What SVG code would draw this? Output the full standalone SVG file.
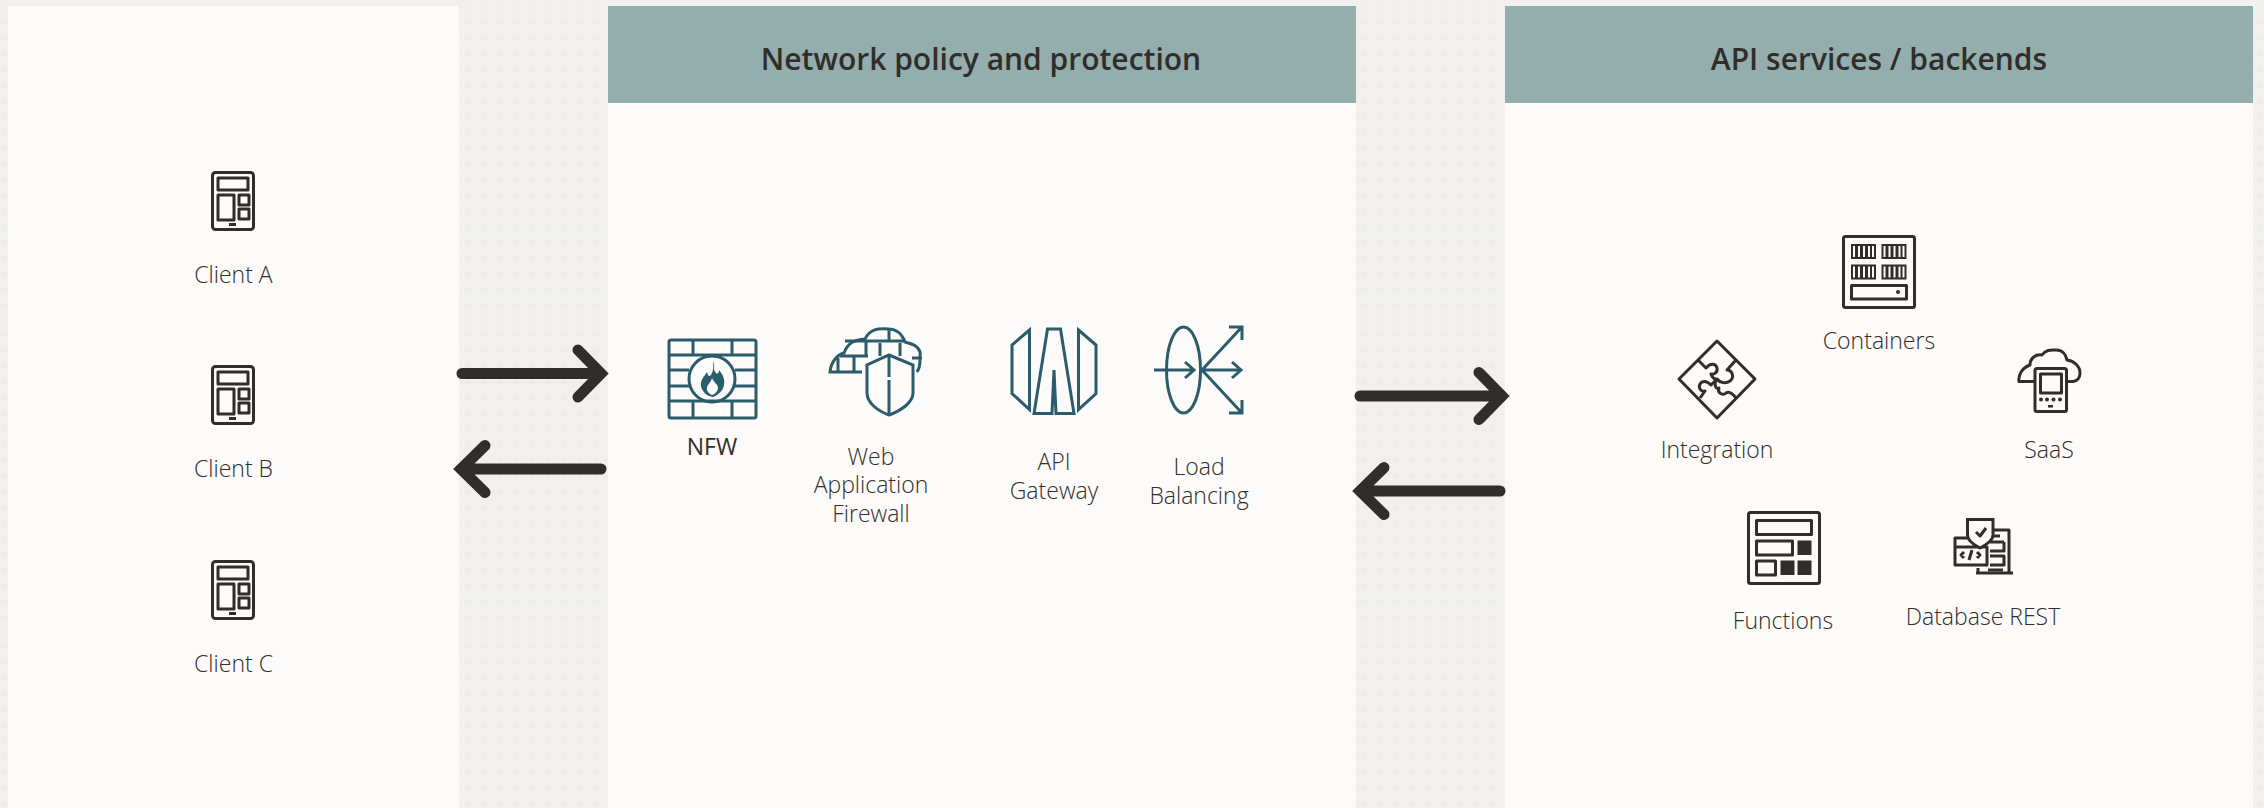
<svg xmlns="http://www.w3.org/2000/svg" width="2264" height="808" viewBox="0 0 2264 808">
<style>
.lb{font-family:"Open Sans","Liberation Sans",sans-serif;font-weight:300;font-size:23px;fill:#312d2a;text-anchor:middle}
.hd{font-family:"Open Sans","Liberation Sans",sans-serif;font-weight:600;font-size:30px;fill:#312d2a;text-anchor:middle}
.k{fill:none;stroke:#312d2a;stroke-width:3;stroke-linejoin:round}
.kf{fill:#312d2a}
.t{fill:none;stroke:#2a5c6b;stroke-width:3}
.ar{fill:none;stroke:#312d2a;stroke-width:11;stroke-linecap:round;stroke-linejoin:miter;stroke-miterlimit:10}
.p{fill:#fcfbf9}
.h{fill:#94aead}
</style>
<defs>
<pattern id="tex" width="16" height="15.6" patternUnits="userSpaceOnUse"><circle cx="5" cy="8" r="1.8" fill="#ebeae7"/><circle cx="13" cy="8" r="1.2" fill="#ecebe8"/></pattern>
<g id="tablet"><rect x="1.5" y="1.5" width="41" height="57" rx="3" class="k"/><rect x="7" y="7" width="30" height="12" class="k"/><rect x="7" y="24" width="16" height="25" class="k"/><rect x="28" y="24" width="10" height="10" class="k"/><rect x="28" y="38" width="10" height="10" class="k"/><rect x="18" y="52" width="7" height="3" class="kf"/></g>
<g id="cell"><rect x="0" y="0" width="25" height="15" class="kf"/><path d="M3 2v11M8 2v11M13 2v11M18 2v11M22 2v11" stroke="#fcfbf9" stroke-width="2"/></g>
</defs>
<rect width="2264" height="808" fill="#f1f0ee"/>
<rect width="2264" height="808" fill="url(#tex)"/>
<g id="panel-clients"><rect x="8" y="6" width="451" height="802" class="p"/></g>
<g id="panel-network"><rect x="608" y="6" width="748" height="802" class="p"/><rect x="608" y="6" width="748" height="97" class="h"/><text x="981" y="70" class="hd">Network policy and protection</text></g>
<g id="panel-api"><rect x="1505" y="6" width="748" height="802" class="p"/><rect x="1505" y="6" width="748" height="97" class="h"/><text x="1879" y="70" class="hd">API services / backends</text></g>

<g id="client-a"><use href="#tablet" x="211" y="171"/><text x="233.500" y="283" class="lb">Client A</text></g>
<g id="client-b"><use href="#tablet" x="211" y="365"/><text x="233.500" y="477" class="lb">Client B</text></g>
<g id="client-c"><use href="#tablet" x="211" y="560"/><text x="233.500" y="672" class="lb">Client C</text></g>

<g id="nfw">
<rect x="669" y="340" width="87" height="78" rx="2" class="t"/>
<path class="t" d="M669 355H756M669 401H756M693 340V355M732 340V355M693 401V418M732 401V418M669 370H689M735 370H756M669 386H689M735 386H756"/>
<circle cx="712" cy="379" r="23" class="t"/>
<path fill="#2a5c6b" fill-rule="evenodd" d="M713 361C716 367 712 369 716 373C718 375 719 372 719 370C724 376 725 381 724 385C723 391 718 395 713 397C707 396 702 392 701 386C700 380 704 377 707 372C708 376 709 377 711 375C713 372 714 367 713 361ZM712 378C711 383 706 385 707 390C708 393 710 394 712 395C715 394 718 391 718 388C718 384 714 383 712 378Z"/>
<text x="712" y="455" class="lb" style="font-weight:400">NFW</text>
</g>

<g id="waf">
<path class="t" d="M862 372H830C831 362 837 355 844 353C848 342 855 340 865 339C870 329 878 328 889 329C896 329 902 334 905 342C913 344 918 346 920 352C921 355 919 358 920 361C920 366 919 369 917 372"/>
<path class="t" d="M840 356H868M838 372V358M854 356V372M845 341H905M866 341V356M889 329V341M880 343V356M900 343V356M922 358H912M882 329V330"/>
<path d="M889 355L913 365V393C913 403 900 411 889 415C878 411 867 403 867 393V365Z" stroke="#2a5c6b" stroke-width="3" fill="#fcfbf9"/>
<path class="t" d="M889 355V377M889 380V415"/>
<text x="871" y="465" class="lb">Web</text><text x="871" y="493" class="lb">Application</text><text x="871" y="522" class="lb">Firewall</text>
</g>

<g id="api-gateway">
<path class="t" d="M1029.500 330L1012 345V393.500L1029.500 409.500Z"/>
<path class="t" d="M1078.500 330L1096 345V393.500L1078.500 409.500Z"/>
<path class="t" d="M1047.500 329H1060.500L1074 413.500H1056L1054 370L1052 413.500H1034Z"/>
<text x="1054" y="470" class="lb">API</text><text x="1054" y="499" class="lb">Gateway</text>
</g>

<g id="load-balancing">
<ellipse cx="1183.500" cy="370" rx="17" ry="43" class="t"/>
<path class="t" d="M1154 370H1194M1185 362L1194 370L1185 378M1202 370H1241M1232 362L1241 370L1232 378M1202 370L1241 328M1229 327H1242V340M1202 370L1241 412M1229 413H1242V400"/>
<text x="1199" y="475" class="lb">Load</text><text x="1199" y="504" class="lb">Balancing</text>
</g>

<g id="containers">
<rect x="1843.500" y="236.500" width="71" height="71" rx="2" class="k"/>
<use href="#cell" x="1851" y="244"/><use href="#cell" x="1881.500" y="244"/><use href="#cell" x="1851" y="264.500"/><use href="#cell" x="1881.500" y="264.500"/>
<rect x="1851.500" y="285.500" width="55" height="13.500" class="k"/><circle cx="1898" cy="292" r="2" class="kf"/>
<text x="1879" y="349" class="lb">Containers</text>
</g>

<g id="integration">
<path class="k" d="M1717 341L1755 379L1717 418L1679 379Z"/>
<path class="k" d="M1698 360L1706 368C1711 362 1716 364 1717 368C1718 372 1714 375 1711 374C1713 380 1716 379 1717 379L1711 385C1706 380 1702 381 1700 384C1698 388 1701 392 1705 391L1700 398"/>
<path class="k" d="M1717 379C1720 383 1726 384 1730 381C1735 377 1732 370 1727 370L1736 360M1717 379C1713 384 1716 390 1719 388C1717 393 1723 396 1726 393C1729 391 1732 393 1736 398"/>
<text x="1717" y="458" class="lb">Integration</text>
</g>

<g id="saas">
<path class="k" d="M2035 381.500H2019C2018 375 2022 368 2030 365C2030 358 2036 354 2042 355C2046 349 2052 350 2056 350C2062 350 2066 354 2067 360C2074 361 2080 366 2080 373C2080 378 2077 381 2073 381.500H2067"/>
<rect x="2035" y="368.500" width="31.500" height="43" rx="2" class="k"/>
<rect x="2040.500" y="374" width="21" height="19" class="k"/>
<g class="kf"><circle cx="2041" cy="399.500" r="2"/><circle cx="2047" cy="399.500" r="2"/><circle cx="2053.500" cy="399.500" r="2"/><circle cx="2060" cy="399.500" r="2"/><rect x="2048" y="405" width="5" height="2.500"/></g>
<text x="2049" y="458" class="lb">SaaS</text>
</g>

<g id="functions">
<rect x="1748.500" y="512.500" width="71" height="71" rx="2" class="k"/>
<rect x="1756.500" y="520.500" width="55" height="14" class="k"/>
<rect x="1756.500" y="541" width="36" height="14" class="k"/>
<rect x="1797.500" y="540.500" width="14" height="14.500" class="kf"/>
<rect x="1756.500" y="561" width="19" height="14" class="k"/>
<rect x="1780.500" y="560.500" width="14" height="14.500" class="kf"/>
<rect x="1797.500" y="560.500" width="14" height="14.500" class="kf"/>
<text x="1783" y="629" class="lb">Functions</text>
</g>

<g id="database-rest">
<path class="k" d="M1993 530H2009V573"/>
<path class="k" d="M1978 568V574M2000 536H1992M2004 542H1990M2004 542V551H1990M1990 556H2004V565H1990M2003 570H1988"/>
<path d="M1976 573H2013" stroke="#312d2a" stroke-width="3"/>
<path class="k" d="M1967 538H1955V565H1987V547H1955"/>
<path d="M1967.500 519.500H1993V535C1993 541 1986 545 1980 548C1974 545 1967.500 541 1967.500 535Z" stroke="#312d2a" stroke-width="3" fill="#fcfbf9"/>
<path class="k" d="M1976 532L1980 536L1986 528"/>
<path class="k" d="M1964 552L1961 555L1964 558M1977 552L1980 555L1977 558M1972 550L1969 560"/>
<text x="1983" y="625" class="lb">Database REST</text>
</g>

<g id="connectors">
<path class="ar" d="M462 373.500H601M578 350L601 373.500L578 397"/>
<path class="ar" d="M601 469H461M485 445.500L461 469L485 492.500"/>
<path class="ar" d="M1360 396H1502M1479 372.500L1502 396L1479 419.500"/>
<path class="ar" d="M1500 491H1360M1384 467.500L1360 491L1384 514.500"/>
</g>
</svg>
